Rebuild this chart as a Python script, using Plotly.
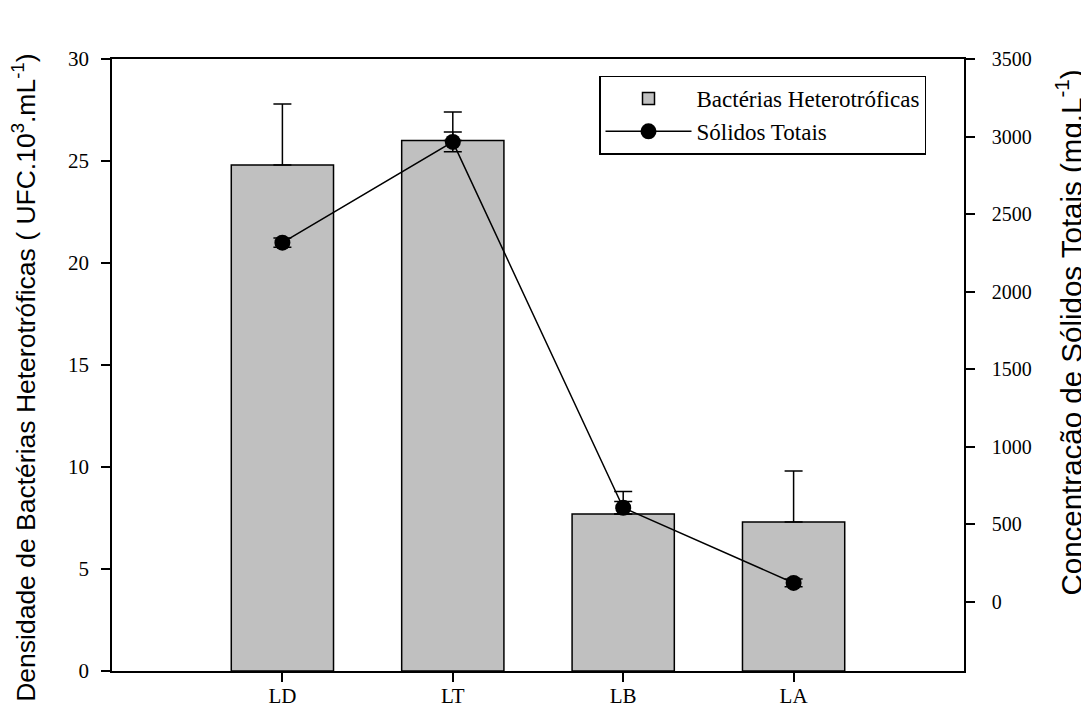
import plotly.graph_objects as go

categories = ["LD", "LT", "LB", "LA"]
bacterias = [24.8, 26.0, 7.7, 7.3]
bacterias_err = [3.0, 1.4, 1.1, 2.5]
solidos = [2315, 2965, 605, 120]
solidos_err = [30, 64, 40, 25]

left_ticks = [0, 5, 10, 15, 20, 25, 30]
right_ticks = [0, 500, 1000, 1500, 2000, 2500, 3000, 3500]

serif = "Liberation Serif"
sans = "Liberation Sans"

fig = go.Figure()
fig.add_trace(go.Bar(
    x=categories, y=bacterias, name="Bactérias Heterotróficas",
    width=0.6,
    marker=dict(color="#c0c0c0", line=dict(color="black", width=1.5)),
    error_y=dict(type="data", array=bacterias_err, arrayminus=[0]*4, symmetric=False,
                 color="black", thickness=1.5, width=9),
    yaxis="y",
))
fig.add_trace(go.Scatter(
    x=categories, y=solidos, name="Sólidos Totais", mode="lines+markers",
    line=dict(color="black", width=1.5),
    marker=dict(color="black", size=16),
    error_y=dict(type="data", array=solidos_err, color="black", thickness=1.5, width=9),
    yaxis="y2",
))

# the page body has an 8px margin, so the figure is drawn 8px in and 8px smaller
fig.update_layout(
    width=1081, height=707,
    margin=dict(l=104, r=125, t=51, b=44),
    paper_bgcolor="white", plot_bgcolor="white",
    showlegend=True,
    legend=dict(x=0.5716, y=0.973, xanchor="left", yanchor="top",
                bordercolor="black", borderwidth=1.5, bgcolor="white",
                font=dict(family=serif, size=23, color="black"),
                itemwidth=86, tracegroupgap=0),
    xaxis=dict(type="category", range=[-1, 4], showline=True, linecolor="black", linewidth=1.5,
               mirror=True, ticks="outside", ticklen=9, tickcolor="black", tickwidth=1.5,
               ticklabelstandoff=-4,
               tickfont=dict(family=serif, size=21, color="black"), showgrid=False,
               automargin=False),
    yaxis=dict(range=[0, 30], tickvals=left_ticks, showline=True, linecolor="black", linewidth=1.5,
               ticks="outside", ticklen=9, tickcolor="black", tickwidth=1.5, ticklabelstandoff=8,
               tickfont=dict(family=serif, size=21, color="black"), showgrid=False, zeroline=False,
               automargin=False),
    yaxis2=dict(range=[-448, 3500], tickvals=right_ticks, overlaying="y", side="right",
                showline=True, linecolor="black", linewidth=1.5,
                ticks="outside", ticklen=9, tickcolor="black", tickwidth=1.5, ticklabelstandoff=13,
                tickfont=dict(family=serif, size=20, color="black"), showgrid=False, zeroline=False,
                automargin=False),
    annotations=[
        dict(text="Densidade de Bactérias Heterotróficas ( UFC.10<sup>3</sup>.mL<sup>-1</sup>)",
             xref="paper", yref="paper", x=(24 - 112) / 852, y=0.479, xanchor="center", yanchor="middle",
             textangle=-90, showarrow=False, font=dict(family=sans, size=26.5, color="black")),
        dict(text="Concentração de Sólidos Totais (mg.L<sup>-1</sup>)",
             xref="paper", yref="paper", x=(1069 - 112) / 852, y=0.553, xanchor="center", yanchor="middle",
             textangle=-90, showarrow=False, font=dict(family=sans, size=29.5, color="black")),
    ],
)

fig.write_html("out.html")
